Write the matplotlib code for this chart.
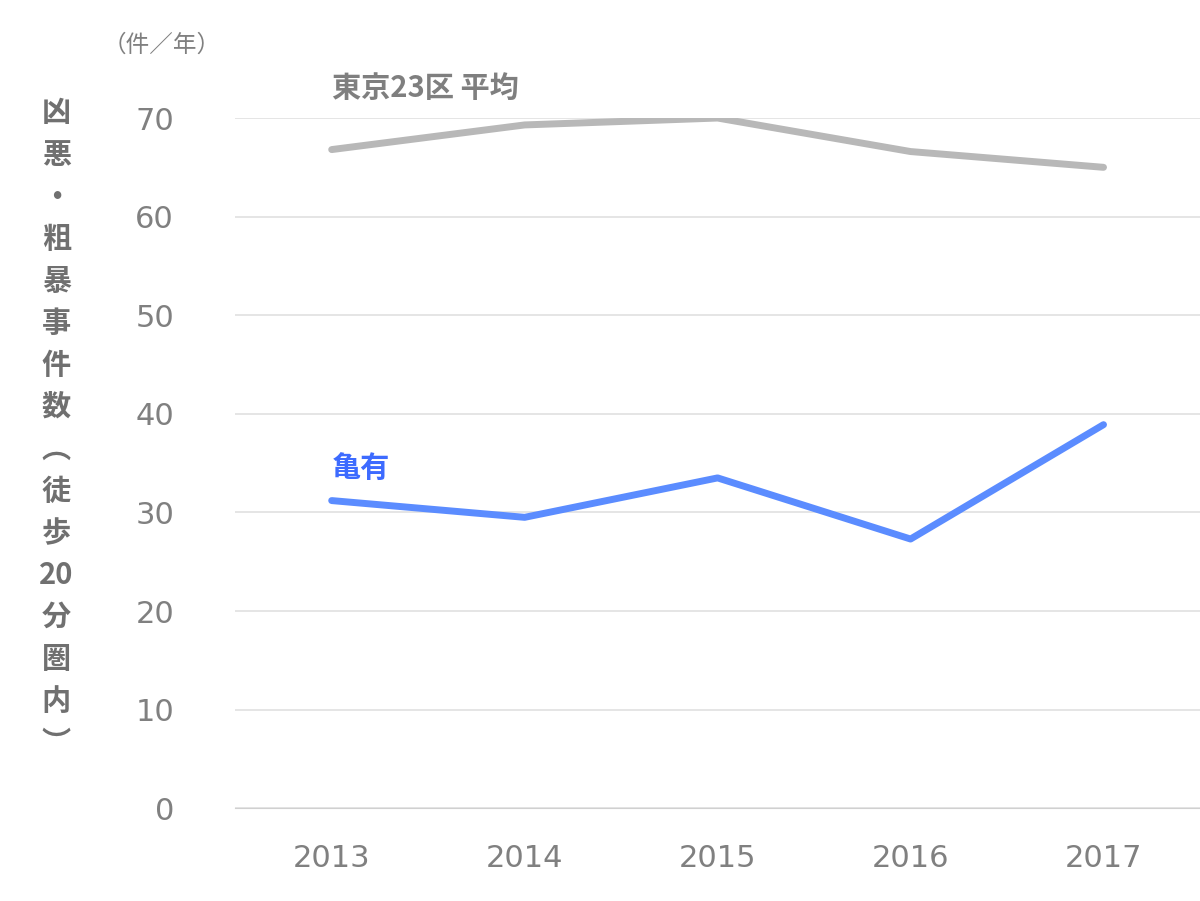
import matplotlib
matplotlib.use("Agg")
import matplotlib.pyplot as plt

plt.rcParams['font.family'] = ['Noto Sans CJK JP', 'DejaVu Sans']

years = ["2013", "2014", "2015", "2016", "2017"]
tokyo_avg = [66.8, 69.3, 70.0, 66.6, 65.0]
kameari = [31.2, 29.5, 33.5, 27.3, 38.9]
yticks = [0, 10, 20, 30, 40, 50, 60, 70]

fig = plt.figure(figsize=(12, 9.01), dpi=100)
ax = fig.add_axes([0.196, 0.103, 0.804, 0.766])
x = range(len(years))
ax.plot(x, tokyo_avg, color="#b8b8b8", lw=5, solid_capstyle="round")
ax.plot(x, kameari, color="#5b8cff", lw=5, solid_capstyle="round")

ax.set_xlim(-0.5, 4.5)
ax.set_ylim(0, 70)
ax.set_yticks(yticks)
ax.set_xticks(list(x))
ax.set_xticklabels(years)
ax.grid(axis="y", color="#e0e0e0", lw=1.2)
ax.set_axisbelow(True)
for s in ["top", "right", "left"]:
    ax.spines[s].set_visible(False)
ax.spines["bottom"].set_color("#d0d0d0")
ax.tick_params(length=0, labelsize=22, labelcolor="#808080")
for lab in ax.get_xticklabels() + ax.get_yticklabels():
    lab.set_family("DejaVu Sans")
ax.tick_params(axis="x", pad=26)
ax.tick_params(axis="y", pad=44)

ax.text(0, 71.5, "東京23区 平均", color="#7f7f7f", fontsize=21, fontweight="bold",
        ha="left", va="bottom")
ax.text(0, 33.0, "亀有", color="#3d6bff", fontsize=21, fontweight="bold",
        ha="left", va="bottom")

fig.text(0.135, 0.95, "（件／年）", color="#808080", fontsize=17, ha="center", va="center")
ylabel = "\n".join(["凶", "悪", "・", "粗", "暴", "事", "件", "数", "︵", "徒", "歩", "20", "分", "圏", "内", "︶"])
fig.text(0.047, 0.525, ylabel, color="#707070", fontsize=21, fontweight="bold",
         ha="center", va="center", linespacing=1.5)

fig.savefig("out.png", dpi=100)
